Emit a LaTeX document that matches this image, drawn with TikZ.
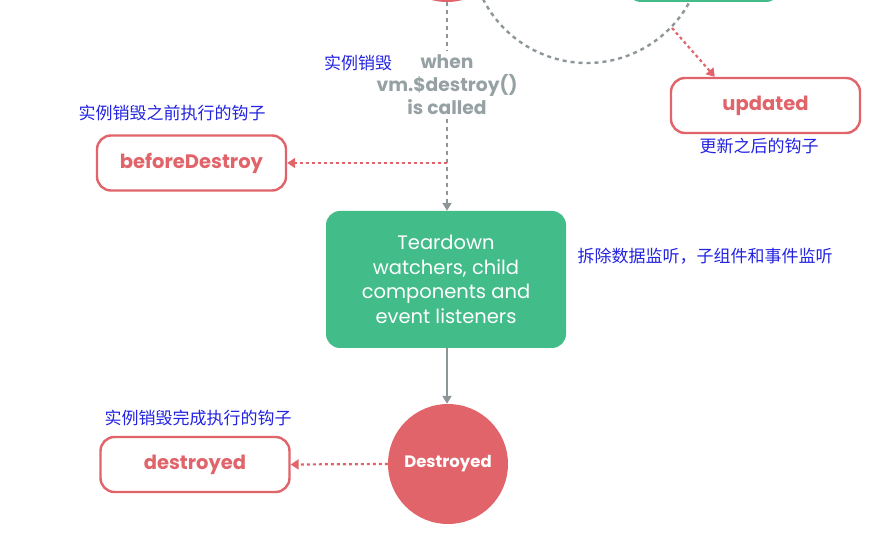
\documentclass[tikz,border=0pt]{standalone}
\usepackage{fontspec}
\setmainfont{Poppins}
\newfontfamily\cjk{Noto Sans CJK SC}
\usetikzlibrary{arrows.meta}
\definecolor{hookred}{RGB}{224,100,106}
\definecolor{stagegreen}{RGB}{66,188,137}
\definecolor{flowgray}{RGB}{140,150,153}
\definecolor{notegray}{RGB}{150,161,163}
\definecolor{noteblue}{RGB}{35,35,225}
\tikzset{
  hookbox/.style={draw=hookred,line width=2.4pt,rounded corners=14pt,fill=white,
    minimum width=189pt,minimum height=55pt,text=hookred,font=\fontsize{19.5}{22}\selectfont\bfseries},
  stagebox/.style={fill=stagegreen,rounded corners=14pt,text=white,align=center,
    font=\fontsize{19.5}{24.5}\selectfont},
  stagecirc/.style={circle,fill=hookred,minimum size=120pt,inner sep=0pt,text=white,
    font=\fontsize{16.5}{18}\selectfont\bfseries},
  cnote/.style={text=noteblue,font=\cjk\fontsize{17}{19}\selectfont},
  flow/.style={draw=flowgray,line width=2.2pt,-{Triangle[length=8pt,width=9pt]}},
  flowdash/.style={flow,dash pattern=on 4pt off 4pt},
  hookarrow/.style={draw=hookred,line width=2.2pt,dash pattern=on 3pt off 3pt,
    -{Triangle[length=8pt,width=10pt]}}
}
\begin{document}
\begin{tikzpicture}[x=1pt,y=-1pt]
\useasboundingbox (0,0) rectangle (889,545);
\clip (0,0) rectangle (889,545);
\draw[flowgray,line width=2.4pt,dash pattern=on 4pt off 4pt] (587,-53.5) ++(165:116.5) arc[start angle=165,end angle=15,radius=116.5];
\coordinate (tap) at (672,28);
\node[stagecirc] (mounted) at (447,-58) {};
\node[stagebox,minimum width=153pt,minimum height=50pt] (rerender) at (703.5,-23) {};
\node[hookbox] (updated) at (765.5,105.5) {updated};
\node[cnote] at (759,146) {更新之后的钩子};
\node[cnote] at (358,63) {实例销毁};
\node[text=notegray,align=center,font=\fontsize{18.7}{23}\selectfont\bfseries] (when) at (447,85) {when\\vm.\$destroy()\\is called};
\node[hookbox] (before) at (191.5,163) {beforeDestroy};
\node[cnote] at (172,113) {实例销毁之前执行的钩子};
\node[stagebox,minimum width=240pt,minimum height=137pt] (teardown) at (446,279.5) {Teardown\\watchers, child\\components and\\event listeners};
\node[cnote,anchor=west] at (574,256) {拆除数据监听，子组件和事件监听};
\node[stagecirc] (destroyed) at (448,464) {Destroyed};
\node[hookbox] (after) at (195,464.5) {destroyed};
\node[cnote] at (198,418) {实例销毁完成执行的钩子};
\draw[flowgray,line width=2.2pt,dash pattern=on 4pt off 4pt] (mounted.south) -- (when.north);
\draw[flowdash] (when.south) -- (when.south |- teardown.north);
\draw[hookarrow] (when.south |- before.east) -- (before.east);
\draw[hookarrow] (tap) -- ([xshift=45pt]updated.north west);
\draw[flow] (when.south |- teardown.south) -- (when.south |- destroyed.north);
\draw[hookarrow] (destroyed.west) -- (after.east);
\end{tikzpicture}
\end{document}
